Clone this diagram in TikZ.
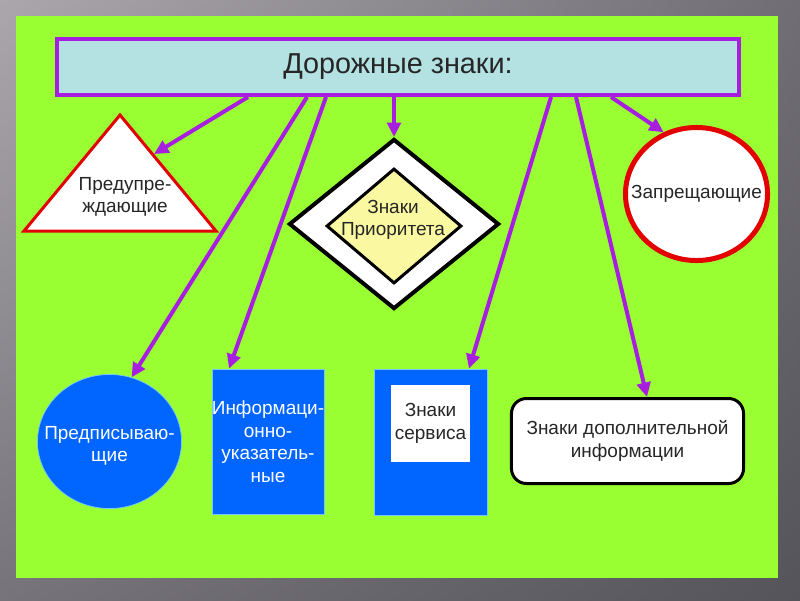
\documentclass[tikz,border=0pt]{standalone}
\usepackage{fontspec}
\setmainfont{Liberation Sans}
\usetikzlibrary{arrows.meta,shapes.geometric,shadings}

\definecolor{bgA}{RGB}{170,166,172}
\definecolor{bgB}{RGB}{112,110,116}
\definecolor{bgC}{RGB}{118,116,122}
\definecolor{bgD}{RGB}{84,84,90}
\definecolor{bggreen}{RGB}{153,255,51}
\definecolor{signviolet}{RGB}{168,30,224}
\definecolor{titlecyan}{RGB}{180,225,225}
\definecolor{signred}{RGB}{226,0,0}
\definecolor{signblue}{RGB}{0,102,255}
\definecolor{prioyellow}{RGB}{250,248,160}
\definecolor{edgeblue}{RGB}{120,200,255}

\begin{document}
\begin{tikzpicture}[x=0.025cm,y=-0.025cm]
	% styles
	\tikzstyle{lbl} = [font=\fontsize{13.5}{16}\selectfont,align=center,text=black!85]
	\tikzstyle{arr} = [draw=signviolet,line width=0.1cm,-{Triangle[length=0.36cm,width=0.34cm]}]
	\tikzstyle{bluesign} = [draw=edgeblue,line width=0.5pt,fill=signblue,text=white]
	
	% bounding box and background
	\useasboundingbox (0,0) rectangle (800,600);
	\shade[upper left=bgA,upper right=bgB,lower left=bgC,lower right=bgD] (0,0) rectangle (800,600);
	\fill[bggreen] (16,16) rectangle (778,578);
	
	% title
	\node[draw=signviolet,line width=0.1cm,fill=titlecyan,minimum width=17.05cm,minimum height=1.4cm,
		inner sep=0pt,font=\fontsize{20.5}{24}\selectfont,text=black!85] (title) at (398,67) {Дорожные знаки:};
	
	% warning triangle
	\draw[signred,line width=0.075cm,fill=white] (120,115) -- (216,231) -- (24,231) -- cycle;
	\node[lbl] (warn) at (125,197) {Предупре-\\ждающие};
	\coordinate (warntip) at (154,154);
	
	% priority diamond
	\node[diamond,draw,line width=0.1cm,fill=white,minimum width=5.25cm,minimum height=4.25cm,inner sep=0pt] (prio) at (394,224) {};
	\node[diamond,draw,line width=0.075cm,fill=prioyellow,minimum width=3.375cm,minimum height=2.875cm,inner sep=0pt] (prioin) at (394,226) {};
	\node[lbl] (priotxt) at (393,220) {Знаки\\Приоритета};
	
	% prohibitory circle
	\node[ellipse,draw=signred,line width=0.125cm,fill=white,minimum width=3.55cm,minimum height=3.325cm,
		label={[lbl]center:Запрещающие}] (forb) at (696.5,194) {};
	
	% mandatory circle
	\node[ellipse,bluesign,minimum width=3.6cm,minimum height=3.35cm,
		label={[lbl,text=white,yshift=-3pt]center:Предписываю-\\щие}] (pres) at (109.5,441.5) {};
	
	% information sign
	\node[rectangle,bluesign,minimum width=2.8cm,minimum height=3.625cm,inner sep=0pt,lbl,text=white] (info) at (268,441.5)
		{Информаци-\\онно-\\указатель-\\ные};
	
	% service sign
	\node[rectangle,bluesign,minimum width=2.825cm,minimum height=3.65cm] (serv) at (430.5,442) {};
	\node[rectangle,fill=white,minimum width=1.975cm,minimum height=1.925cm,inner sep=0pt,lbl] (servin) at (430.5,423.5) {Знаки\\сервиса};
	
	% additional information plate
	\node[rectangle,rounded corners=0.375cm,draw,line width=0.075cm,fill=white,minimum width=5.8cm,minimum height=2.125cm,lbl]
		(extra) at (627.5,441) {Знаки дополнительной\\информации};
	
	% arrows
	\draw[arr] (title.south -| 248,0) -- (warntip);
	\draw[arr] (title.south -| 307,0) -- (pres.71);
	\draw[arr] (title.south -| 326,0) -- (info.north -| 229,0);
	\draw[arr] (prio.north |- title.south) -- (prio.north);
	\draw[arr] (title.south -| 551,0) -- (serv.north -| 469,0);
	\draw[arr] (title.south -| 576,0) -- (extra.north -| 647,0);
	\draw[arr] (title.south -| 611,0) -- (forb.118);
\end{tikzpicture}
\end{document}
